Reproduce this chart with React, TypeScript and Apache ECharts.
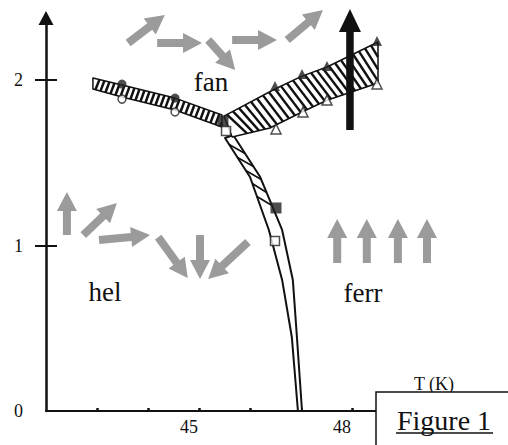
import React, { useEffect, useRef } from "react";
import * as echarts from "echarts";

// ---- axes ----
const xRange = [42, 50];
const yRange = [0, 2.375];
const xTickMarks = [43, 44, 45, 46, 47, 48];
const xTickLabels = [45, 48];
const yTickMarks = [1, 2];
const yTickLabels = [0, 1, 2];

// ---- phase boundaries (T in K, H) ----
const helFanUpper = [[42.92, 2.012], [43.49, 1.97], [44.53, 1.891], [45.45, 1.789]];
const helFanLower = [[42.92, 1.946], [43.49, 1.897], [44.53, 1.819], [45.45, 1.716]];
const fanFerrUpper = [[45.49, 1.782], [46.49, 1.946], [47.02, 2.024], [47.51, 2.079], [48.51, 2.23]];
const fanFerrLower = [[45.65, 1.656], [46.39, 1.71], [47.02, 1.807], [47.51, 1.878], [48.51, 1.982]];
const helFerrLeft = [[45.51, 1.65], [46.0, 1.414], [46.37, 1.094], [46.63, 0.792], [46.82, 0.447], [46.94, 0]];
const helFerrRight = [[45.67, 1.668], [46.2, 1.414], [46.63, 1.094], [46.84, 0.792], [46.92, 0.447], [47.02, 0]];

// ---- measured points ----
const filledCircles = [[43.49, 1.976], [44.53, 1.891]];
const openCircles = [[43.49, 1.885], [44.53, 1.807]];
const filledSquares = [[45.47, 1.752], [46.51, 1.227]];
const openSquares = [[45.53, 1.692], [46.49, 1.027]];
const filledTriangles = [[46.49, 1.964], [47.02, 2.036], [47.51, 2.085], [48.49, 2.236]];
const openTriangles = [[46.51, 1.704], [47.04, 1.807], [47.51, 1.879], [48.49, 1.976]];

// ---- spin arrows: [T tail, H tail, T tip, H tip] ----
const fanArrows = [
  [43.61, 2.224, 44.33, 2.393],
  [44.18, 2.224, 45.06, 2.224],
  [45.18, 2.242, 45.71, 2.06],
  [45.65, 2.242, 46.53, 2.242],
  [46.73, 2.242, 47.43, 2.423],
];
const helArrows = [
  [42.41, 1.063, 42.41, 1.323],
  [42.73, 1.063, 43.39, 1.257],
  [43.04, 1.033, 44.04, 1.063],
  [44.2, 1.051, 44.78, 0.804],
  [45.02, 1.063, 45.02, 0.798],
  [45.96, 1.021, 45.18, 0.798],
];
const ferrArrows = [
  [47.71, 0.894, 47.71, 1.16],
  [48.29, 0.894, 48.29, 1.16],
  [48.9, 0.894, 48.9, 1.16],
  [49.47, 0.894, 49.47, 1.16],
];
const fieldArrow = [[47.96, 1.698, 47.96, 2.429]];

const SERIF = "Liberation Serif";
const INK = "#111";
const GRAY = "#9b9b9b";

type Pt = number[];

function interp(pts: Pt[], v: number, k: number): Pt {
  let i = 0;
  while (i < pts.length - 2 && v > pts[i + 1][k]) i++;
  const a = pts[i];
  const b = pts[i + 1];
  const d = b[k] - a[k];
  const t = d === 0 ? 0 : (v - a[k]) / d;
  return [a[0] + t * (b[0] - a[0]), a[1] + t * (b[1] - a[1])];
}

function bandSeries(edgeA: Pt[], edgeB: Pt[], cfg: any) {
  return {
    type: "custom",
    clip: false,
    silent: true,
    z: cfg.z,
    data: [edgeA[0]],
    encode: { x: 0, y: 1 },
    renderItem: (_p: any, api: any) => {
      const A: Pt[] = edgeA.map((p) => api.coord(p));
      const B: Pt[] = edgeB.map((p) => api.coord(p));
      const k = cfg.k;
      const children: any[] = [
        {
          type: "polygon",
          shape: { points: [...A, ...B.slice().reverse()] },
          style: { fill: "#fff", stroke: INK, lineWidth: cfg.edgeWidth, lineJoin: "round" },
        },
      ];
      const aStart = A[0][k];
      const aEnd = A[A.length - 1][k];
      const bStart = B[0][k];
      const bEnd = B[B.length - 1][k];
      const span = aEnd - aStart;
      let v0 = Math.max(aStart, bStart - cfg.delta);
      let v1 = aEnd;
      if (cfg.fromFrac != null) v0 = Math.max(v0, aStart + span * cfg.fromFrac);
      if (cfg.toFrac != null) v1 = Math.min(v1, aStart + span * cfg.toFrac);
      for (let v = v0 + cfg.step / 2; v <= v1; v += cfg.step) {
        const P = interp(A, v, k);
        let Q = interp(B, v + cfg.delta, k);
        if (v + cfg.delta > bEnd) {
          const t = (bEnd - P[k]) / (Q[k] - P[k]);
          Q = [P[0] + t * (Q[0] - P[0]), P[1] + t * (Q[1] - P[1])];
        }
        children.push({
          type: "line",
          shape: { x1: P[0], y1: P[1], x2: Q[0], y2: Q[1] },
          style: { stroke: INK, lineWidth: cfg.lineWidth },
        });
      }
      return { type: "group", children };
    },
  };
}

function arrowPoints(p1: Pt, p2: Pt, sw: number, hw: number, hl: number) {
  const dx = p2[0] - p1[0];
  const dy = p2[1] - p1[1];
  const L = Math.hypot(dx, dy) || 1;
  const ux = dx / L;
  const uy = dy / L;
  const nx = -uy;
  const ny = ux;
  const bx = p2[0] - ux * hl;
  const by = p2[1] - uy * hl;
  return [
    [p1[0] + (nx * sw) / 2, p1[1] + (ny * sw) / 2],
    [bx + (nx * sw) / 2, by + (ny * sw) / 2],
    [bx + (nx * hw) / 2, by + (ny * hw) / 2],
    [p2[0], p2[1]],
    [bx - (nx * hw) / 2, by - (ny * hw) / 2],
    [bx - (nx * sw) / 2, by - (ny * sw) / 2],
    [p1[0] - (nx * sw) / 2, p1[1] - (ny * sw) / 2],
  ];
}

function arrowSeries(data: number[][], color: string, sw: number, hw: number, hl: number, z: number) {
  return {
    type: "custom",
    clip: false,
    silent: true,
    z,
    data,
    encode: { x: [0, 2], y: [1, 3] },
    renderItem: (_p: any, api: any) => {
      const p1 = api.coord([api.value(0), api.value(1)]);
      const p2 = api.coord([api.value(2), api.value(3)]);
      return {
        type: "polygon",
        shape: { points: arrowPoints(p1, p2, sw, hw, hl) },
        style: { fill: color },
      };
    },
  };
}

function markerSeries(data: number[][], symbol: string, size: number, filled: boolean) {
  return {
    type: "scatter",
    silent: true,
    z: 4,
    symbol,
    symbolSize: size,
    data,
    itemStyle: filled
      ? { color: "#222" }
      : { color: "#fff", borderColor: "#222", borderWidth: 1.5 },
  };
}

function label(text: string, x: number, y: number, size: number, z = 50) {
  return {
    type: "text",
    x,
    y,
    z,
    style: {
      text,
      fontFamily: SERIF,
      fontSize: size,
      fill: INK,
      align: "center",
      verticalAlign: "middle",
    },
  };
}

export default function App() {
  const ref = useRef<HTMLDivElement>(null);
  useEffect(() => {
    if (!ref.current) return;
    const chart = echarts.init(ref.current, null, { renderer: "svg" });
    const option: any = {
      animation: false,
      backgroundColor: "#fff",
      grid: { left: 46, top: 18, right: 54, bottom: 34 },
      xAxis: {
        type: "value",
        min: xRange[0],
        max: xRange[1],
        interval: 1,
        axisLine: { lineStyle: { color: INK, width: 2 } },
        axisTick: { inside: true, length: 3, customValues: xTickMarks, lineStyle: { color: INK, width: 2.5 } },
        axisLabel: {
          customValues: xTickLabels,
          fontFamily: SERIF,
          fontSize: 18,
          color: INK,
          margin: 7,
          padding: [0, 20, 0, 0],
        },
        splitLine: { show: false },
      },
      yAxis: [
        {
          type: "value",
          min: yRange[0],
          max: yRange[1],
          interval: 1,
          position: "left",
          axisLine: {
            show: true,
            symbol: ["none", "triangle"],
            symbolSize: [15, 14],
            lineStyle: { color: INK, width: 2.5 },
          },
          axisTick: { show: true, length: 11, customValues: yTickMarks, lineStyle: { color: INK, width: 2 } },
          axisLabel: { customValues: yTickLabels, fontFamily: SERIF, fontSize: 18, color: INK, margin: 23 },
          splitLine: { show: false },
        },
        {
          type: "value",
          min: yRange[0],
          max: yRange[1],
          interval: 1,
          position: "left",
          axisLine: { show: false },
          axisTick: { show: true, inside: true, length: 11, customValues: yTickMarks, lineStyle: { color: INK, width: 2 } },
          axisLabel: { show: false },
          splitLine: { show: false },
        },
      ],
      series: [
        bandSeries(helFerrLeft, helFerrRight, { k: 1, delta: 9, step: 13, edgeWidth: 2, lineWidth: 1.6, fromFrac: 0.0, toFrac: 0.24, z: 2 }),
        bandSeries(helFanLower, helFanUpper, { k: 0, delta: 4, step: 5, edgeWidth: 1.5, lineWidth: 2.5, z: 2 }),
        bandSeries(fanFerrUpper, fanFerrLower, { k: 0, delta: 20, step: 6, edgeWidth: 1.5, lineWidth: 2.4, z: 3 }),
        markerSeries(filledCircles, "circle", 9, true),
        markerSeries(openCircles, "circle", 8, false),
        markerSeries(filledSquares, "rect", 11, true),
        markerSeries(openSquares, "rect", 9, false),
        markerSeries(filledTriangles, "triangle", 10, true),
        markerSeries(openTriangles, "triangle", 10, false),
        arrowSeries(fanArrows, GRAY, 8, 20, 19, 5),
        arrowSeries(helArrows, GRAY, 8, 20, 19, 5),
        arrowSeries(ferrArrows, GRAY, 8, 20, 19, 5),
        arrowSeries(fieldArrow, INK, 7.5, 22, 23, 6),
      ],
      graphic: [
        label("fan", 211, 82, 27),
        label("hel", 105, 292, 27),
        label("ferr", 363, 293, 27),
        label("T (K)", 434, 384, 18),
        { type: "rect", z: 100, shape: { x: 376, y: 392, width: 150, height: 70 }, style: { fill: "#fff", stroke: INK, lineWidth: 1.5 } },
        label("Figure 1", 444, 420, 28, 101),
        { type: "line", z: 101, shape: { x1: 396, y1: 433, x2: 493, y2: 433 }, style: { stroke: INK, lineWidth: 1.3 } },
      ],
    };
    chart.setOption(option);
    return () => chart.dispose();
  }, []);
  return (
    <div
      ref={ref}
      style={{ position: "fixed", left: 0, top: 0, width: 508, height: 445, background: "#fff" }}
    />
  );
}
